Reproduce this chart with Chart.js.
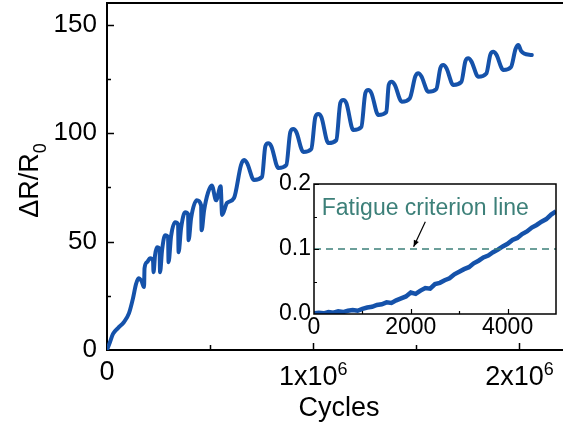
<!DOCTYPE html>
<html><head><meta charset="utf-8">
<script src="https://cdn.jsdelivr.net/npm/chart.js@4"></script>
<style>
html,body{margin:0;padding:0;background:#fff;overflow:hidden;width:563px;height:429px;position:relative;}
#main{position:absolute;left:0;top:0;}
#inset{position:absolute;left:270px;top:165px;}
</style></head><body>
<canvas id="main" width="581" height="429"></canvas>
<canvas id="inset" width="300" height="190"></canvas>
<script>
// ---------- main chart data ----------
const cycles = [0,14600,29100,53400,82500,106800,126200,140800,152900,167500,179600,182000,194200,208700,223300,225700,233000,242700,254900,257300,267000,281600,296100,298500,310700,330100,344700,347100,359200,378600,393200,395600,407800,435400,456300,458700,470900,490300,508300,529100,551000,558300,
  582000,615900,649900,664400,679000,712900,751700,767700,782300,796800,830800,869600,888900,903500,918000,952000,990800,1010200,1024700,1039300,1073200,1112000,1131400,1146000,1160500,1194500,1233300,1252700,1267200,1281800,1315700,1354500,1366200,1380700,1395200,1429200,1468000,1495200,1509700,1524300,1558200,1597000,1616400,1631000,1645500,1679500,1718200,1737600,1752200,1766800,1800700,1839500,1858900,1873500,1888000,1922000,1959300,1981100,1994700,2007800,2022300,2059700];
const ratio = [0,3.7,7.4,10.1,12.9,17.0,23.9,30.4,33.1,31.8,29.0,37.7,40.5,42.3,41.0,35.9,43.7,47.4,46.5,35.9,46.0,52.9,52.0,40.5,52.5,58.9,58.0,45.1,56.1,63.5,62.6,50.6,60.8,69.0,66.7,55.2,64.4,72.7,75.9,69.0,75.5,62.3,
  67.8,70.1,85.3,87.6,86.2,78.4,79.8,93.9,95.3,93.9,83.9,85.3,100.5,101.9,100.5,91.3,92.7,107.4,108.8,107.4,95.4,96.8,113.9,115.3,113.9,101.4,102.8,118.5,119.9,118.5,108.4,109.7,122.3,123.7,122.3,114.5,116.0,126.2,127.6,126.2,119.1,120.3,130.0,131.4,130.0,122.2,123.6,133.1,134.5,133.1,126.0,127.5,136.2,137.5,136.2,129.1,130.5,138.8,140.6,137.9,136.7,136.0];
const mainYTicks = [0,50,100,150];
const mainYMinorTicks = [25,75,125];
const mainXTicks = [0,1000000,2000000];
const mainXTickLabels = ['0','1x10^6','2x10^6'];
const mainXMinorTicks = [500000,1500000];
const mainXTitle = 'Cycles';
const mainYTitle = ['ΔR/R','0'];

// ---------- inset data ----------
const insetCycles = [0,100,200,300,400,500,600,700,800,900,1000,1100,1200,1300,1400,1500,1600,1700,1800,1900,2000,2100,2200,2300,2400,2500,2600,2700,2800,2900,3000,3100,3200,3300,3400,3500,3600,3700,3800,3900,4000,4100,4200,4300,4400,4500,4600,4700,4800,4900,5000];
const insetRatio = [0.001,0.002,0.001,0.003,0.002,0.004,0.003,0.005,0.006,0.005,0.008,0.010,0.011,0.014,0.015,0.018,0.017,0.021,0.024,0.027,0.033,0.031,0.036,0.040,0.039,0.046,0.048,0.052,0.055,0.061,0.065,0.069,0.072,0.078,0.082,0.087,0.090,0.095,0.099,0.104,0.108,0.114,0.117,0.123,0.127,0.133,0.137,0.142,0.146,0.153,0.158];
const criterionLevel = 0.1;
const criterionLabel = 'Fatigue criterion line';
const insetYTicks = [0,0.1,0.2];
const insetYMinorTicks = [0.05,0.15];
const insetXTicks = [0,2000,4000];
const insetXMinorTicks = [1000,3000];

const BLUE = 'rgb(21,82,170)';
const TEAL = 'rgb(61,128,121)';
const FONT = '"Liberation Sans", Arial, sans-serif';

function noPad(s) { s.paddingTop = 0; s.paddingBottom = 0; s.paddingLeft = 0; s.paddingRight = 0; }

// ---------- main chart ----------
const mainPlugin = {
  id: 'mainDecor',
  afterDraw(chart) {
    const {ctx, chartArea: a, scales: {x, y}} = chart;
    ctx.save();
    ctx.strokeStyle = '#000';
    ctx.lineWidth = 2;
    ctx.beginPath(); ctx.moveTo(a.left - 1, a.top); ctx.lineTo(a.right + 20, a.top); ctx.stroke();
    ctx.lineWidth = 1.5;
    ctx.beginPath();
    mainYTicks.forEach(v => { if (v === 0) return; const py = Math.round(y.getPixelForValue(v)) + 0.5; ctx.moveTo(a.left, py); ctx.lineTo(a.left + 7, py); });
    mainYMinorTicks.forEach(v => { const py = Math.round(y.getPixelForValue(v)) + 0.5; ctx.moveTo(a.left, py); ctx.lineTo(a.left + 4, py); });
    mainXTicks.forEach(v => { if (v === 0) return; const px = Math.round(x.getPixelForValue(v)) + 0.5; ctx.moveTo(px, a.bottom); ctx.lineTo(px, a.bottom - 7); });
    mainXMinorTicks.forEach(v => { const px = Math.round(x.getPixelForValue(v)) + 0.5; ctx.moveTo(px, a.bottom); ctx.lineTo(px, a.bottom - 5); });
    ctx.stroke();
    // x tick labels with superscripts
    ctx.fillStyle = '#000';
    ctx.textBaseline = 'alphabetic';
    ctx.textAlign = 'left';
    mainXTicks.forEach((v, i) => {
      const parts = mainXTickLabels[i].split('^');
      const mainF = '27px ' + FONT, supF = '18px ' + FONT;
      ctx.font = mainF; const w1 = ctx.measureText(parts[0]).width;
      ctx.font = supF; const w2 = parts[1] ? ctx.measureText(parts[1]).width : 0;
      const px = x.getPixelForValue(v);
      const sx = px - (w1 + w2) / 2;
      const base = parts[1] ? a.bottom + 35 : a.bottom + 30;
      ctx.font = mainF; ctx.fillText(parts[0], sx, base);
      if (parts[1]) { ctx.font = supF; ctx.fillText(parts[1], sx + w1, base - 10); }
    });
    // y title with subscript
    ctx.save();
    const cy = (a.top + a.bottom) / 2 + 4;
    ctx.font = '27px ' + FONT; const t1 = ctx.measureText(mainYTitle[0]).width;
    ctx.font = '18px ' + FONT; const t2 = ctx.measureText(mainYTitle[1]).width;
    ctx.translate(38, cy + (t1 + t2) / 2);
    ctx.rotate(-Math.PI / 2);
    ctx.font = '27px ' + FONT; ctx.fillText(mainYTitle[0], 0, 0);
    ctx.font = '18px ' + FONT; ctx.fillText(mainYTitle[1], t1, 8);
    ctx.restore();
    ctx.restore();
  }
};

new Chart(document.getElementById('main'), {
  type: 'line',
  data: { datasets: [{
    data: cycles.map((c, i) => ({x: c, y: ratio[i]})),
    borderColor: BLUE, borderWidth: 4, pointRadius: 0, fill: false,
    cubicInterpolationMode: 'monotone', borderJoinStyle: 'round', borderCapStyle: 'round'
  }]},
  options: {
    responsive: false, animation: false, events: [],
    layout: { padding: { left: 0, top: 3, right: 10, bottom: 0 } },
    plugins: { legend: { display: false }, tooltip: { enabled: false } },
    scales: {
      x: {
        type: 'linear', min: 0, max: 2250000,
        afterFit: s => { s.height = 79; noPad(s); },
        grid: { display: false, drawTicks: false },
        border: { display: true, color: '#000', width: 2 },
        ticks: { display: false },
        title: { display: true, text: mainXTitle, color: '#000', font: { family: FONT, size: 27 }, padding: { top: 0, bottom: 4 } }
      },
      y: {
        type: 'linear', min: 0, max: 160,
        afterFit: s => { s.width = 107; noPad(s); },
        afterBuildTicks: s => { s.ticks = mainYTicks.map(v => ({value: v})); },
        grid: { display: false, drawTicks: false },
        border: { display: true, color: '#000', width: 2 },
        ticks: { color: '#000', font: { family: FONT, size: 26 }, padding: 10 }
      }
    }
  },
  plugins: [mainPlugin]
});

// ---------- inset ----------
const insetPlugin = {
  id: 'insetDecor',
  beforeDraw(chart) {
    const {ctx, chartArea: a} = chart;
    ctx.save(); ctx.fillStyle = '#fff'; ctx.fillRect(a.left, a.top, a.right - a.left, a.bottom - a.top); ctx.restore();
  },
  afterDraw(chart) {
    const {ctx, chartArea: a, scales: {x, y}} = chart;
    ctx.save();
    ctx.strokeStyle = '#000'; ctx.lineWidth = 1.5;
    ctx.strokeRect(Math.round(a.left), Math.round(a.top), Math.round(a.right - a.left), Math.round(a.bottom - a.top));
    ctx.lineWidth = 1.2;
    ctx.beginPath();
    insetYTicks.forEach(v => { if (v === 0) return; const py = Math.round(y.getPixelForValue(v)) + 0.5; ctx.moveTo(a.left, py); ctx.lineTo(a.left + 5, py); });
    insetYMinorTicks.forEach(v => { const py = Math.round(y.getPixelForValue(v)) + 0.5; ctx.moveTo(a.left, py); ctx.lineTo(a.left + 3, py); });
    insetXTicks.forEach(v => { if (v === 0) return; const px = Math.round(x.getPixelForValue(v)) + 0.5; ctx.moveTo(px, a.bottom); ctx.lineTo(px, a.bottom - 5); });
    insetXMinorTicks.forEach(v => { const px = Math.round(x.getPixelForValue(v)) + 0.5; ctx.moveTo(px, a.bottom); ctx.lineTo(px, a.bottom - 3); });
    ctx.stroke();
    // label
    ctx.fillStyle = TEAL;
    ctx.font = '23px ' + FONT;
    ctx.textBaseline = 'alphabetic'; ctx.textAlign = 'left';
    ctx.fillText(criterionLabel, x.getPixelForValue(160), y.getPixelForValue(0.152));
    // arrow
    const x0 = x.getPixelForValue(2300), y0 = y.getPixelForValue(0.142);
    const x1 = x.getPixelForValue(2058), y1 = y.getPixelForValue(0.1035);
    ctx.strokeStyle = '#000'; ctx.fillStyle = '#000'; ctx.lineWidth = 1.2;
    ctx.beginPath(); ctx.moveTo(x0, y0); ctx.lineTo(x1, y1); ctx.stroke();
    const ang = Math.atan2(y1 - y0, x1 - x0);
    ctx.beginPath();
    ctx.moveTo(x1, y1);
    ctx.lineTo(x1 - 7 * Math.cos(ang - 0.4), y1 - 7 * Math.sin(ang - 0.4));
    ctx.lineTo(x1 - 7 * Math.cos(ang + 0.4), y1 - 7 * Math.sin(ang + 0.4));
    ctx.closePath(); ctx.fill();
    ctx.restore();
  }
};

new Chart(document.getElementById('inset'), {
  type: 'line',
  data: { datasets: [
    { data: [{x: 0, y: criterionLevel}, {x: 5000, y: criterionLevel}], borderColor: TEAL, borderWidth: 1.5, borderDash: [7, 5], pointRadius: 0, fill: false },
    { data: insetCycles.map((c, i) => ({x: c, y: insetRatio[i]})), borderColor: BLUE, borderWidth: 4.5, pointRadius: 0, fill: false, tension: 0 }
  ]},
  options: {
    responsive: false, animation: false, events: [],
    layout: { padding: { left: 0, top: 19, right: 14, bottom: 0 } },
    plugins: { legend: { display: false }, tooltip: { enabled: false } },
    scales: {
      x: {
        type: 'linear', min: 0, max: 5000,
        afterFit: s => { s.height = 41; noPad(s); },
        afterBuildTicks: s => { s.ticks = insetXTicks.map(v => ({value: v})); },
        grid: { display: false, drawTicks: false },
        border: { display: false },
        ticks: { color: '#000', font: { family: FONT, size: 23 }, padding: 0, maxRotation: 0, autoSkip: false, callback: v => String(v) }
      },
      y: {
        type: 'linear', min: 0, max: 0.2,
        afterFit: s => { s.width = 44; noPad(s); },
        afterBuildTicks: s => { s.ticks = insetYTicks.map(v => ({value: v})); },
        grid: { display: false, drawTicks: false },
        border: { display: false },
        ticks: { color: '#000', font: { family: FONT, size: 23 }, padding: 3, callback: v => v.toFixed(1) }
      }
    }
  },
  plugins: [insetPlugin]
});
</script>
</body></html>
